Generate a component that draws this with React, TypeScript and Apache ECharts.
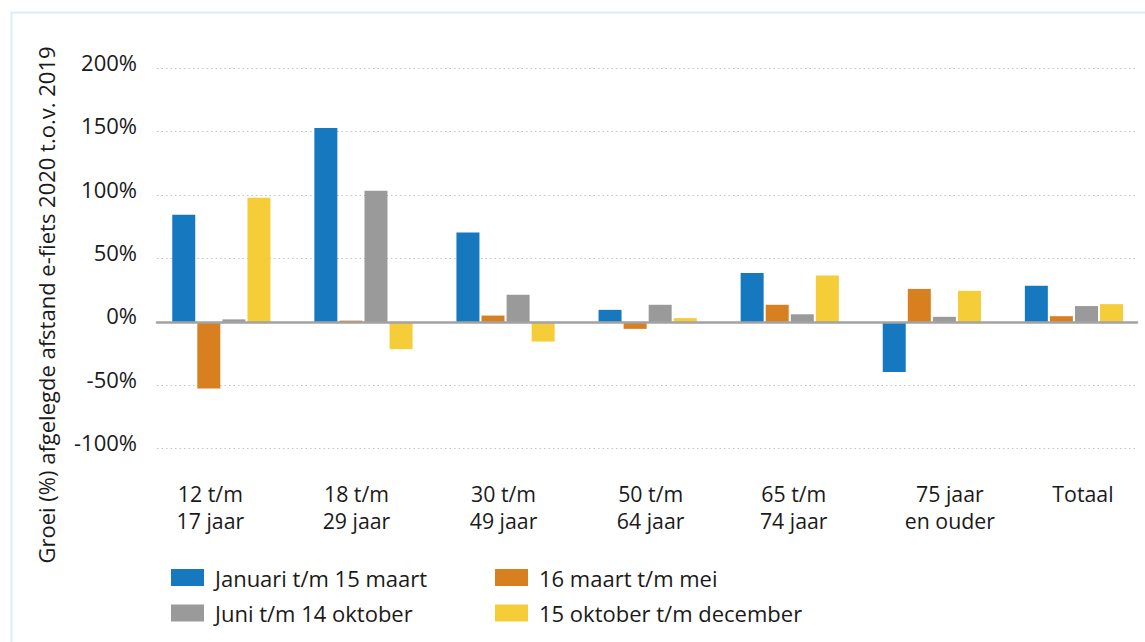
import React, { useEffect, useRef } from "react";
import * as echarts from "echarts";

// ---- data ----
const categories = [
  "12 t/m\n17 jaar",
  "18 t/m\n29 jaar",
  "30 t/m\n49 jaar",
  "50 t/m\n64 jaar",
  "65 t/m\n74 jaar",
  "75 jaar\nen ouder",
  "Totaal",
];
const seriesNames = [
  "Januari t/m 15 maart",
  "16 maart t/m mei",
  "Juni t/m 14 oktober",
  "15 oktober t/m december",
];
const janMaart = [84.5, 153, 70.5, 9.5, 38.5, -39.5, 28.5];
const maartMei = [-52.5, 1, 5, -5.5, 13.5, 26, 4.5];
const juniOkt = [2, 103.5, 21.5, 13.5, 6, 4, 12.5];
const oktDec = [98, -21.5, -15.5, 3, 36.5, 24.5, 14];
const yTicks = [-100, -50, 0, 50, 100, 150, 200];
const yTitle = "Groei (%) afgelegde afstand e-fiets 2020 t.o.v. 2019";

// ---- layout / style ----
const labelShift = [-11, -7, -2, 3, 4, 18, 9];
const colors = ["#1679c0", "#d8801f", "#9a9a9a", "#f4cd38"];
const FONT = "'Open Sans', 'Noto Sans', sans-serif";
const FS_X = 21.3;
const FS = 22;
const TXT = "#1a1a1a";

export default function App() {
  const ref = useRef<HTMLDivElement>(null);
  useEffect(() => {
    if (!ref.current) return;
    const chart = echarts.init(ref.current, null, { renderer: "svg" });
    const gridTop = 68.3;
    const gridH = 380.4;
    const yMin = yTicks[0];
    const yMax = yTicks[yTicks.length - 1];
    const legendPos = [
      { left: 171, top: 566.5 },
      { left: 495, top: 566.5 },
      { left: 171, top: 602 },
      { left: 495, top: 602 },
    ];
    const values = [janMaart, maartMei, juniOkt, oktDec];
    chart.setOption({
      animation: false,
      textStyle: { fontFamily: FONT },
      grid: [
        { left: 157, right: 8, top: gridTop, height: gridH },
        { left: 150.3, width: 996, top: gridTop, height: gridH },
      ],
      xAxis: [
        {
          gridIndex: 0,
          type: "value",
          min: 0,
          max: 1,
          z: 5,
          axisLine: { show: true, onZero: true, lineStyle: { color: "#a2a2a2", width: 2.6 } },
          axisTick: { show: false },
          axisLabel: { show: false },
          splitLine: { show: false },
        },
        {
          gridIndex: 1,
          type: "category",
          position: "bottom",
          data: categories.map((c, i) => {
            const d = labelShift[i];
            return {
              value: c,
              textStyle: { padding: d >= 0 ? [0, 0, 0, 2 * d] : [0, -2 * d, 0, 0] },
            };
          }),
          axisLine: { show: false, onZero: false },
          axisTick: { show: false },
          axisLabel: {
            color: TXT,
            fontSize: FS_X,
            fontFamily: FONT,
            lineHeight: 27,
            margin: 31,
            interval: 0,
          },
          splitLine: { show: false },
        },
      ],
      yAxis: [
        {
          gridIndex: 0,
          type: "value",
          min: yMin,
          max: yMax,
          interval: 50,
          axisLine: { show: false },
          axisTick: { show: false },
          axisLabel: {
            color: TXT,
            fontSize: FS,
            fontFamily: FONT,
            margin: 20,
            verticalAlign: "bottom",
            lineHeight: 13,
            formatter: (v: number) => v + "%",
          },
          splitLine: { show: true, lineStyle: { color: "#c4c4c4", width: 1, type: [1.5, 3] } },
        },
        {
          gridIndex: 1,
          type: "value",
          min: yMin,
          max: yMax,
          interval: 50,
          show: false,
          splitLine: { show: false },
        },
      ],
      legend: seriesNames.map((n, i) => ({
        data: [n],
        left: legendPos[i].left,
        top: legendPos[i].top,
        itemWidth: 33,
        itemHeight: 17,
        icon: "rect",
        padding: 0,
        selectedMode: false,
        textStyle: { color: TXT, fontSize: FS, fontFamily: FONT, padding: [0, 0, 0, 6] },
      })),
      graphic: [
        {
          type: "rect",
          shape: { x: 11.5, y: 12.5, width: 1300, height: 800 },
          style: { fill: "none", stroke: "#dcedf7", lineWidth: 2 },
          silent: true,
        },
        {
          type: "text",
          x: 46,
          y: 305,
          rotation: Math.PI / 2,
          style: {
            text: yTitle,
            align: "center",
            verticalAlign: "middle",
            fontSize: FS,
            fontFamily: FONT,
            fill: TXT,
          },
        },
      ],
      series: seriesNames.map((n, i) => ({
        name: n,
        type: "bar",
        xAxisIndex: 1,
        yAxisIndex: 1,
        data: values[i],
        barWidth: 23,
        barGap: "9%",
        itemStyle: { color: colors[i] },
      })),
    });
    return () => chart.dispose();
  }, []);
  return (
    <div
      ref={ref}
      style={{ position: "fixed", left: 0, top: 0, width: 1145, height: 642, background: "#fff" }}
    />
  );
}
